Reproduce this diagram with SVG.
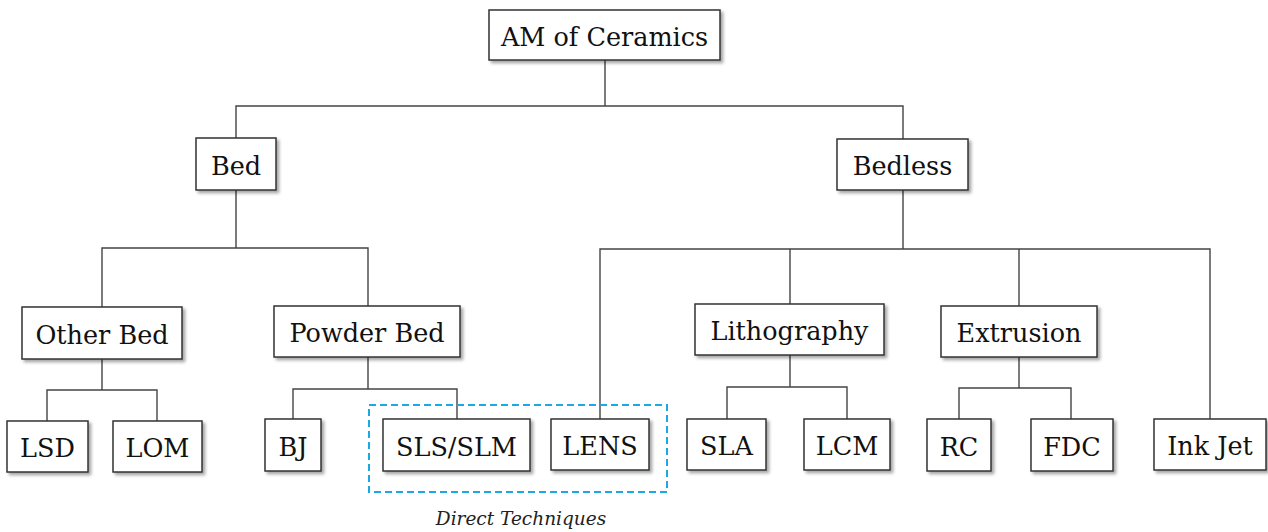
<svg xmlns="http://www.w3.org/2000/svg" width="1268" height="532" viewBox="0 0 1268 532">
<defs>
<filter id="sh" x="-10%" y="-10%" width="130%" height="140%">
<feDropShadow dx="2.5" dy="2.5" stdDeviation="1.6" flood-color="#000" flood-opacity="0.35"/>
</filter>
<style>
.box{fill:#fff;stroke:#333;stroke-width:1.5;filter:url(#sh)}
.lbl{font-family:"DejaVu Serif","Liberation Serif",serif;font-size:25.5px;fill:#111;text-anchor:middle}
.edge{fill:none;stroke:#444;stroke-width:1.4}
.grp{fill:none;stroke:#1aa9e3;stroke-width:2;stroke-dasharray:7 4}
.cap{font-family:"DejaVu Serif","Liberation Serif",serif;font-style:italic;font-size:18.5px;fill:#222;text-anchor:middle}
</style>
</defs>
<rect width="1268" height="532" fill="#fff"/>
<g id="connectors">
<path class="edge" d="M605 60V106M236 138V106H903V139"/>
<path class="edge" d="M236 190V248M102 307V248H368V306"/>
<path class="edge" d="M903 190V249M600 419V249H1210V419M790 249V304M1019 249V306"/>
<path class="edge" d="M102 359V390M47 421V390H157V421"/>
<path class="edge" d="M368 357V389M293 419V389H457V419"/>
<path class="edge" d="M790 355V387M727 419V387H847V419"/>
<path class="edge" d="M1019 357V388M959 419V388H1071V419"/>
</g>
<g id="direct-techniques">
<rect class="grp" x="369" y="405" width="298" height="87"/>
<text class="cap" x="521" y="525">Direct Techniques</text>
</g>
<g id="am"><rect class="box" x="489" y="10" width="231" height="50"/><text class="lbl" x="604.5" y="46">AM of Ceramics</text></g>
<g id="bed"><rect class="box" x="196" y="138" width="80" height="52"/><text class="lbl" x="236" y="174.5">Bed</text></g>
<g id="bedless"><rect class="box" x="837" y="139" width="131" height="51"/><text class="lbl" x="902.5" y="175">Bedless</text></g>
<g id="other-bed"><rect class="box" x="22" y="307" width="160" height="52"/><text class="lbl" x="102" y="343.5">Other Bed</text></g>
<g id="powder-bed"><rect class="box" x="274" y="306" width="186" height="51"/><text class="lbl" x="367" y="342">Powder Bed</text></g>
<g id="lithography"><rect class="box" x="695" y="304" width="189" height="51"/><text class="lbl" x="789.5" y="340">Lithography</text></g>
<g id="extrusion"><rect class="box" x="941" y="306" width="156" height="51"/><text class="lbl" x="1019" y="342">Extrusion</text></g>
<g id="lsd"><rect class="box" x="7" y="421" width="81" height="51"/><text class="lbl" x="47.5" y="457">LSD</text></g>
<g id="lom"><rect class="box" x="113" y="421" width="89" height="51"/><text class="lbl" x="157.5" y="457">LOM</text></g>
<g id="bj"><rect class="box" x="265" y="419" width="56" height="52"/><text class="lbl" x="293" y="455.5">BJ</text></g>
<g id="sls-slm"><rect class="box" x="383" y="419" width="147" height="52"/><text class="lbl" x="456.5" y="455.5">SLS/SLM</text></g>
<g id="lens"><rect class="box" x="551" y="419" width="98" height="51"/><text class="lbl" x="600" y="455">LENS</text></g>
<g id="sla"><rect class="box" x="687" y="419" width="79" height="51"/><text class="lbl" x="726.5" y="455">SLA</text></g>
<g id="lcm"><rect class="box" x="804" y="419" width="86" height="51"/><text class="lbl" x="847" y="455">LCM</text></g>
<g id="rc"><rect class="box" x="927" y="419" width="64" height="52"/><text class="lbl" x="959" y="455.5">RC</text></g>
<g id="fdc"><rect class="box" x="1031" y="419" width="82" height="52"/><text class="lbl" x="1072" y="455.5">FDC</text></g>
<g id="ink-jet"><rect class="box" x="1154" y="419" width="112" height="51"/><text class="lbl" x="1210" y="455">Ink Jet</text></g>
</svg>
